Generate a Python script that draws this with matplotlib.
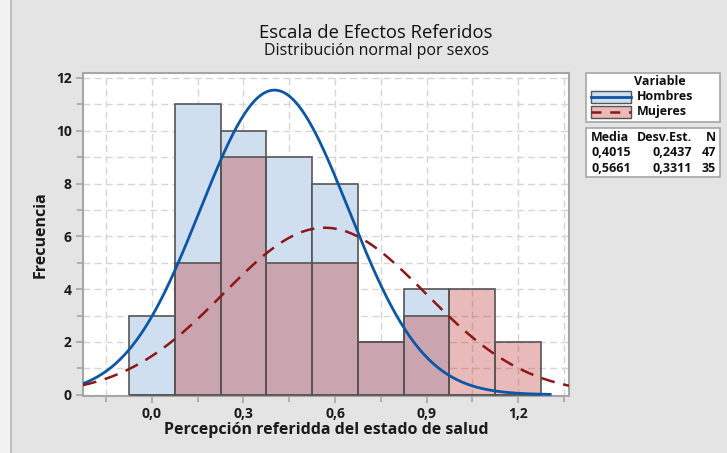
import numpy as np
import matplotlib
matplotlib.use("Agg")
import matplotlib.pyplot as plt
from matplotlib.patches import Rectangle
from matplotlib.lines import Line2D

# ---- data ----
bin_centers = [0.0, 0.15, 0.30, 0.45, 0.60, 0.75, 0.90, 1.05, 1.20]
bin_width = 0.15
hombres_counts = [3, 11, 10, 9, 8, 2, 4, 0, 0]
mujeres_counts = [0, 5, 9, 5, 5, 2, 3, 4, 2]
series_names = ["Hombres", "Mujeres"]
media = [0.4015, 0.5661]
desv = [0.2437, 0.3311]
n_obs = [47, 35]
xtick_vals = [0.0, 0.3, 0.6, 0.9, 1.2]
xtick_labels = ["0,0", "0,3", "0,6", "0,9", "1,2"]
ytick_vals = [0, 2, 4, 6, 8, 10, 12]

title = "Escala de Efectos Referidos"
subtitle = "Distribución normal por sexos"
xlabel = "Percepción referidda del estado de salud"
ylabel = "Frecuencia"

# ---- style ----
FONT = ["Open Sans", "DejaVu Sans"]
plt.rcParams['font.family'] = FONT
BG = "#e4e4e4"
BLUE_FILL = "#d0dff0"
PINK = (192/255, 58/255, 58/255, 0.35)
EDGE = "#555555"
BLUE_LINE = "#0b57a6"
RED_LINE = "#8e1616"
TXT = "#111111"

fig = plt.figure(figsize=(7.27, 4.53), dpi=100, facecolor=BG)
W, H = 727, 453
fig.patches.append(Rectangle((0, 0), 11/W, 1, transform=fig.transFigure,
                             facecolor="#f2f2f2", edgecolor="none", zorder=0))
fig.add_artist(Line2D([11/W, 11/W], [0, 1], transform=fig.transFigure,
                      color="#b5b5b5", lw=1.2))

ax = fig.add_axes([83/W, (453-396)/H, (569-83)/W, (396-72.7)/H])
ax.set_facecolor("white")

xlim = (-0.226, 1.367)
ax.set_xlim(*xlim)
ax.set_ylim(-0.05, 12.2)

ax.set_xticks(xtick_vals)
ax.set_xticks([-0.15, 0.15, 0.45, 0.75, 1.05, 1.35], minor=True)
ax.set_yticks(ytick_vals)
ax.set_yticks([1, 3, 5, 7, 9, 11], minor=True)
ax.grid(True, which="both", color="#d6d6d6", linestyle=(0, (5, 3)), lw=1.0)
ax.set_axisbelow(True)

ax.bar(bin_centers, hombres_counts, width=bin_width, color=BLUE_FILL,
       edgecolor=EDGE, linewidth=1.2, zorder=2)
ax.bar(bin_centers, mujeres_counts, width=bin_width, color=PINK,
       edgecolor=EDGE, linewidth=1.2, zorder=3)

def normal_curve(x, m, s, n):
    return n * bin_width * np.exp(-0.5 * ((x - m) / s) ** 2) / (s * np.sqrt(2 * np.pi))

xh = np.linspace(xlim[0], 1.31, 400)
xm = np.linspace(xlim[0], xlim[1], 400)
ax.plot(xh, normal_curve(xh, media[0], desv[0], n_obs[0]), color=BLUE_LINE,
        lw=2.0, zorder=4, solid_capstyle="butt")
ax.plot(xm, normal_curve(xm, media[1], desv[1], n_obs[1]), color=RED_LINE,
        lw=1.8, zorder=4, linestyle=(0, (5.5, 3.5)))

ax.set_xticklabels(xtick_labels)
for sp in ax.spines.values():
    sp.set_color("#a6a6a6")
    sp.set_linewidth(1.5)
ax.tick_params(axis="both", which="major", length=5, width=1.2, color="#a6a6a6",
               labelsize=10, pad=3)
ax.tick_params(axis="both", which="minor", length=4, width=1.2, color="#a6a6a6")
for lab in ax.get_xticklabels() + ax.get_yticklabels():
    lab.set_fontweight("bold")
    lab.set_color("#1a1a1a")

ax.set_xlabel(xlabel, fontsize=11.5, fontweight="bold", color="#1a1a1a", labelpad=1)
ax.set_ylabel(ylabel, fontsize=11.5, fontweight="bold", color="#1a1a1a", labelpad=5)

fig.text(376/W, 1 - 33/H, title, ha="center", va="center", fontsize=13.3, color=TXT)
fig.text(376/W, 1 - 51/H, subtitle, ha="center", va="center", fontsize=11.5, color=TXT)

# ---- legend ----
def fx(px):
    return px / W

def fy(py):
    return 1 - py / H

LFS = 9
LW8 = "bold"
fig.patches.append(Rectangle((fx(586), fy(122)), fx(720) - fx(586), fy(72.7) - fy(122),
                             transform=fig.transFigure, facecolor="white",
                             edgecolor="#a6a6a6", lw=1.2))
fig.text(fx(660), fy(81.5), "Variable", ha="center", va="center", fontsize=LFS,
         fontweight=LW8, color=TXT)
handle_rows = [97, 112]
for i, name in enumerate(series_names):
    yc = handle_rows[i]
    face = BLUE_FILL if i == 0 else (233/255, 186/255, 186/255)
    fig.patches.append(Rectangle((fx(591), fy(yc + 6)), fx(631) - fx(591), fy(yc - 6) - fy(yc + 6),
                                 transform=fig.transFigure, facecolor=face,
                                 edgecolor=EDGE, lw=1.0))
    if i == 0:
        fig.add_artist(Line2D([fx(591), fx(631)], [fy(yc), fy(yc)], transform=fig.transFigure,
                              color=BLUE_LINE, lw=2.0))
    else:
        fig.add_artist(Line2D([fx(591), fx(631)], [fy(yc), fy(yc)], transform=fig.transFigure,
                              color=RED_LINE, lw=1.8, linestyle=(0, (4, 3.5))))
    fig.text(fx(637), fy(yc), name, ha="left", va="center", fontsize=LFS,
             fontweight=LW8, color=TXT)

fig.patches.append(Rectangle((fx(586), fy(177)), fx(720) - fx(586), fy(128) - fy(177),
                             transform=fig.transFigure, facecolor="white",
                             edgecolor="#a6a6a6", lw=1.2))
hdr_y = 137.5
fig.text(fx(591), fy(hdr_y), "Media", ha="left", va="center", fontsize=LFS, fontweight=LW8, color=TXT)
fig.text(fx(692), fy(hdr_y), "Desv.Est.", ha="right", va="center", fontsize=LFS, fontweight=LW8, color=TXT)
fig.text(fx(716), fy(hdr_y), "N", ha="right", va="center", fontsize=LFS, fontweight=LW8, color=TXT)
for i, yrow in enumerate([153, 168]):
    fig.text(fx(591), fy(yrow), f"{media[i]:.4f}".replace(".", ","), ha="left", va="center",
             fontsize=LFS, fontweight=LW8, color=TXT)
    fig.text(fx(692), fy(yrow), f"{desv[i]:.4f}".replace(".", ","), ha="right", va="center",
             fontsize=LFS, fontweight=LW8, color=TXT)
    fig.text(fx(716), fy(yrow), str(n_obs[i]), ha="right", va="center",
             fontsize=LFS, fontweight=LW8, color=TXT)

fig.savefig("out.png", dpi=100, facecolor=BG)
